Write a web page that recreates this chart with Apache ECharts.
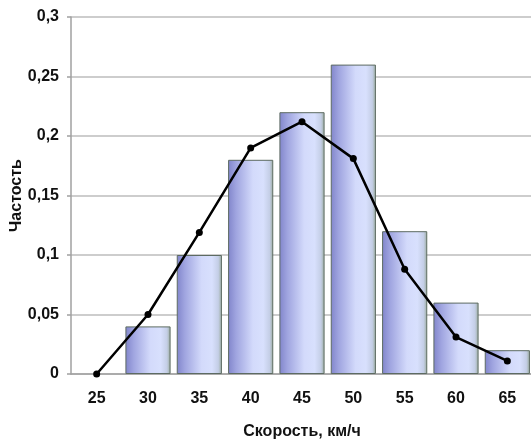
<!DOCTYPE html>
<html>
<head>
<meta charset="utf-8">
<script src="https://cdn.jsdelivr.net/npm/echarts@6/dist/echarts.min.js"></script>
<style>
  html, body { margin: 0; padding: 0; background: #fff; }
  #chart { width: 531px; height: 441px; }
</style>
</head>
<body>
<div id="chart"></div>
<script>
// Speed classes, km/h
const speeds = ['25', '30', '35', '40', '45', '50', '55', '60', '65'];
// Relative frequency per class (histogram bars)
const barFreq = [null, 0.04, 0.10, 0.18, 0.22, 0.26, 0.12, 0.06, 0.02];
// Smoothed frequency polygon
const lineFreq = [0, 0.05, 0.119, 0.19, 0.212, 0.181, 0.088, 0.031, 0.011];

const FONT = '"Liberation Sans", Arial, sans-serif';

const chart = echarts.init(document.getElementById('chart'), null, { renderer: 'canvas' });

const barFill = new echarts.graphic.LinearGradient(0, 0, 1, 0, [
  { offset: 0, color: '#8185cb' },
  { offset: 0.18, color: '#a0a5e0' },
  { offset: 0.55, color: '#d3dafb' },
  { offset: 0.78, color: '#d8e0fd' },
  { offset: 0.92, color: '#c4cee6' },
  { offset: 1, color: '#9aab9c' }
]);

chart.setOption({
  animation: false,
  backgroundColor: '#ffffff',
  grid: { left: 71, right: -2, top: 17, bottom: 67, containLabel: false, outerBoundsMode: 'none' },
  xAxis: {
    type: 'category',
    data: speeds,
    name: 'Скорость, км/ч',
    nameLocation: 'middle',
    nameGap: 50,
    nameMoveOverlap: false,
    nameTextStyle: { fontFamily: FONT, fontWeight: 'bold', fontSize: 16, color: '#111' },
    axisLine: { lineStyle: { color: '#a0a0a0', width: 1.5 } },
    axisTick: { show: false },
    axisLabel: { margin: 17, fontFamily: FONT, fontWeight: 'bold', fontSize: 16, color: '#111' }
  },
  yAxis: {
    type: 'value',
    min: 0,
    max: 0.3,
    interval: 0.05,
    name: 'Частость',
    nameLocation: 'middle',
    nameGap: 46,
    nameRotate: 90,
    nameMoveOverlap: false,
    nameTextStyle: { fontFamily: FONT, fontWeight: 'bold', fontSize: 16, color: '#111' },
    axisLine: { show: true, lineStyle: { color: '#a0a0a0', width: 1.5 } },
    axisTick: { show: true, length: 4, lineStyle: { color: '#a0a0a0', width: 1.5 } },
    splitLine: { lineStyle: { color: '#bdbdbd', width: 1.5 } },
    axisLabel: {
      margin: 12,
      fontFamily: FONT,
      fontWeight: 'bold',
      fontSize: 16,
      color: '#111',
      formatter: v => String(Math.round(v * 100) / 100).replace('.', ',')
    }
  },
  series: [
    {
      type: 'bar',
      data: barFreq,
      barCategoryGap: '12%',
      itemStyle: { color: barFill, borderColor: '#5d6b62', borderWidth: 1 },
      z: 2
    },
    {
      type: 'line',
      data: lineFreq,
      symbol: 'circle',
      symbolSize: 7,
      lineStyle: { color: '#000', width: 2.5 },
      itemStyle: { color: '#000' },
      z: 3
    }
  ]
});
</script>
</body>
</html>
